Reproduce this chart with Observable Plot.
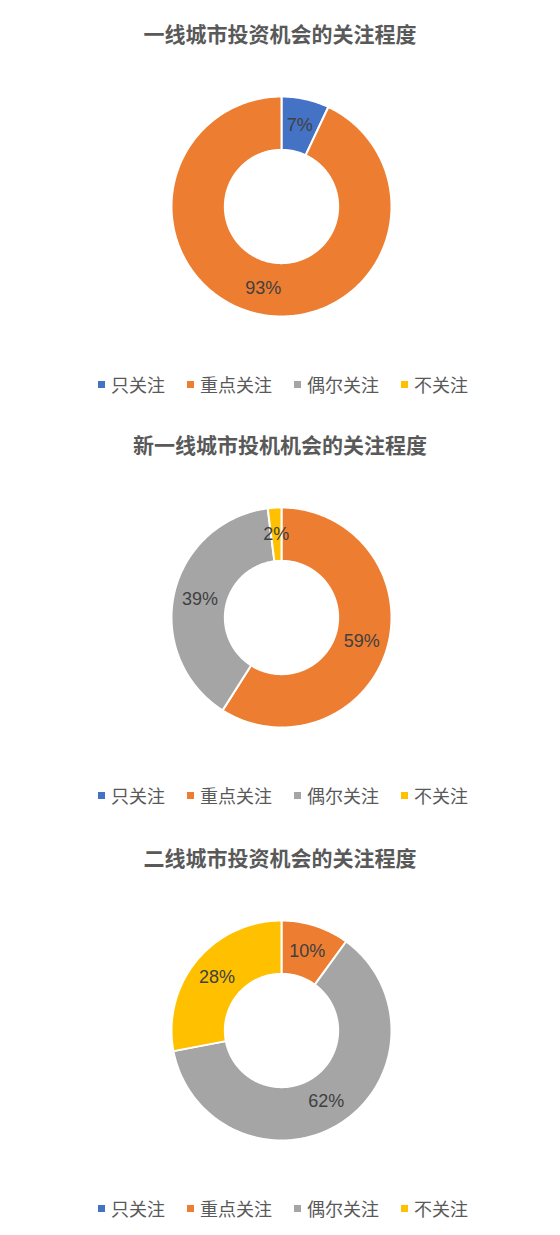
<!DOCTYPE html>
<html>
<head>
<meta charset="utf-8">
<script src="https://cdn.jsdelivr.net/npm/d3@7"></script>
<script src="https://cdn.jsdelivr.net/npm/@observablehq/plot@0.6"></script>
<style>
  html, body { margin: 0; padding: 0; background: #fff; }
  body { width: 560px; font-family: "Noto Sans CJK SC", "Liberation Sans", sans-serif; }
  .block { width: 560px; }
  .title { height: 44px; line-height: 44px; text-align: center; font-size: 21px; font-weight: bold; color: #595959; }
  .legend { height: 54px; display: flex; justify-content: center; align-items: center; gap: 22px; font-size: 18px; color: #595959; padding-left: 6px; box-sizing: border-box; }
  .legend .item { display: flex; align-items: center; gap: 6px; }
  .legend .sw { width: 7px; height: 7px; display: inline-block; }
  svg { display: block; }
</style>
</head>
<body>
<div id="root"></div>
<script>
const categories = ["只关注", "重点关注", "偶尔关注", "不关注"];
const colors = ["#4472C4", "#ED7D31", "#A5A5A5", "#FFC000"];
const titles = ["一线城市投资机会的关注程度", "新一线城市投机机会的关注程度", "二线城市投资机会的关注程度"];
const values1 = [7, 93, 0, 0];
const values2 = [0, 59, 39, 2];
const values3 = [0, 10, 62, 28];
const allValues = [values1, values2, values3];
const blockMargins = [11, 11, 13];

const innerRatio = 0.515;
const labelRatio = 0.76;

const root = document.getElementById("root");

allValues.forEach((values, i) => {
  const rows = categories.map((c, j) => ({cat: c, value: values[j]}));
  const arcs = d3.pie().sort(null).value(d => d.value)(rows);
  const poly = [];
  const labels = [];
  arcs.forEach(a => {
    if (a.data.value <= 0) return;
    const n = Math.max(2, Math.ceil((a.endAngle - a.startAngle) / (Math.PI / 180)));
    for (let k = 0; k <= n; k++) {
      const t = a.startAngle + (a.endAngle - a.startAngle) * k / n;
      poly.push({cat: a.data.cat, x: Math.sin(t), y: Math.cos(t)});
    }
    for (let k = n; k >= 0; k--) {
      const t = a.startAngle + (a.endAngle - a.startAngle) * k / n;
      poly.push({cat: a.data.cat, x: innerRatio * Math.sin(t), y: innerRatio * Math.cos(t)});
    }
    const m = (a.startAngle + a.endAngle) / 2;
    labels.push({x: labelRatio * Math.sin(m), y: labelRatio * Math.cos(m), text: a.data.value + "%"});
  });

  const block = document.createElement("div");
  block.className = "block";
  block.style.marginTop = blockMargins[i] + "px";

  const title = document.createElement("div");
  title.className = "title";
  title.textContent = titles[i];
  block.appendChild(title);

  const chart = Plot.plot({
    width: 560,
    height: 302,
    marginLeft: 171,
    marginRight: 169,
    marginTop: 41,
    marginBottom: 41,
    x: {domain: [-1, 1], axis: null},
    y: {domain: [-1, 1], axis: null},
    color: {domain: categories, range: colors},
    style: {background: "#fff", overflow: "visible"},
    marks: [
      Plot.line(poly, {x: "x", y: "y", z: "cat", fill: "cat", stroke: "#fff", strokeWidth: 2, curve: "linear-closed"}),
      Plot.text(labels, {x: "x", y: "y", text: "text", fill: "#404040", fontSize: 18, fontFamily: "Liberation Sans, Arial, sans-serif"})
    ]
  });
  block.appendChild(chart);

  const legend = document.createElement("div");
  legend.className = "legend";
  categories.forEach((c, j) => {
    const item = document.createElement("span");
    item.className = "item";
    const sw = document.createElement("span");
    sw.className = "sw";
    sw.style.background = colors[j];
    const tx = document.createElement("span");
    tx.textContent = c;
    item.appendChild(sw);
    item.appendChild(tx);
    legend.appendChild(item);
  });
  block.appendChild(legend);

  root.appendChild(block);
});
</script>
</body>
</html>
